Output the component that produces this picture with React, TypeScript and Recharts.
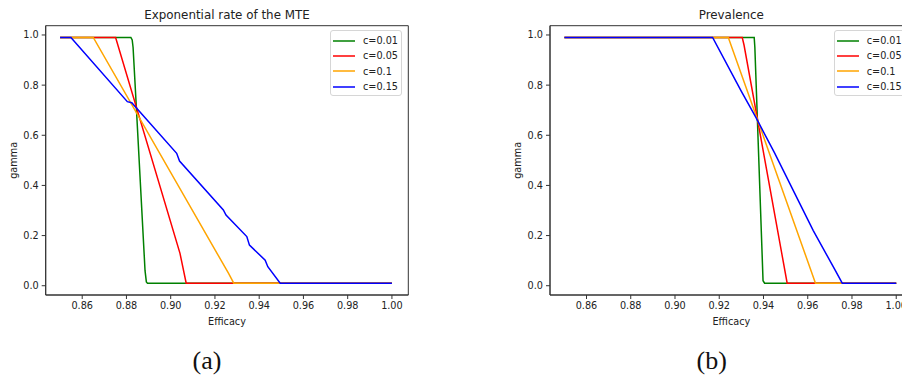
import React from 'react';
import { LineChart, Line, XAxis, YAxis, Legend, ReferenceArea } from 'recharts';

// efficacy ticks / gamma ticks shared by both panels
const xTicks = [0.86, 0.88, 0.9, 0.92, 0.94, 0.96, 0.98, 1.0];
const yTicks = [0, 0.2, 0.4, 0.6, 0.8, 1.0];
const xDomain = [0.8435, 1.0074];
const yDomain = [-0.037, 1.037];

const seriesNames = ['c=0.01', 'c=0.05', 'c=0.1', 'c=0.15'];
const seriesColors = ['#008000', '#ff0000', '#ffa500', '#0000ff'];

// (a) Exponential rate of the MTE
const mteX001 = [0.85, 0.882, 0.8826, 0.883, 0.8843, 0.8884, 0.889, 0.8895, 1.0];
const mteY001 = [0.99, 0.99, 0.98, 0.95, 0.74, 0.06, 0.015, 0.01, 0.01];
const mteX005 = [0.85, 0.8751, 0.9042, 0.9070, 1.0];
const mteY005 = [0.99, 0.99, 0.129, 0.01, 0.01];
const mteX01 = [0.85, 0.865, 0.9261, 0.9285, 1.0];
const mteY01 = [0.99, 0.99, 0.05, 0.01, 0.01];
const mteX015 = [0.85, 0.8549, 0.8804, 0.8824, 0.9027, 0.9040, 0.9238, 0.925, 0.9344, 0.9356, 0.9427, 0.9439, 0.9495, 1.0];
const mteY015 = [0.99, 0.99, 0.734, 0.73, 0.528, 0.497, 0.302, 0.282, 0.196, 0.162, 0.102, 0.076, 0.01, 0.01];

// (b) Prevalence
const prvX001 = [0.85, 0.9358, 0.9361, 0.9398, 0.9405, 1.0];
const prvY001 = [0.99, 0.99, 0.95, 0.02, 0.01, 0.01];
const prvX005 = [0.85, 0.9304, 0.9312, 0.9507, 1.0];
const prvY005 = [0.99, 0.99, 0.96, 0.01, 0.01];
const prvX01 = [0.85, 0.9241, 0.9635, 1.0];
const prvY01 = [0.99, 0.99, 0.01, 0.01];
const prvX015 = [0.85, 0.917, 0.93, 0.9365, 0.945, 0.954, 0.9625, 0.9722, 0.9756, 1.0];
const prvY015 = [0.99, 0.99, 0.775, 0.672, 0.53, 0.37, 0.22, 0.065, 0.01, 0.01];

const zip = (xs: number[], ys: number[]) => xs.map((x, i) => ({ x, y: ys[i] }));

const font = 'DejaVu Sans';
const ink = '#222';

const LegendBox = ({ payload }: any) => (
  <div
    style={{
      width: 72,
      boxSizing: 'border-box',
      border: '1px solid #d6d6d6',
      borderRadius: 3,
      background: 'rgba(255,255,255,0.8)',
      padding: '2px 2px 1px',
      fontFamily: font,
      fontSize: 9.7,
      color: ink,
    }}
  >
    {(payload || []).map((p: any) => {
      const idx = seriesNames.indexOf(p.value);
      const c = idx >= 0 ? seriesColors[idx] : p.color;
      return (
        <div key={p.value} style={{ display: 'flex', alignItems: 'center', height: 15.3 }}>
          <svg width={22} height={4} style={{ marginRight: 8, display: 'block' }}>
            <line x1={0} y1={2} x2={22} y2={2} stroke={c} strokeWidth={1.5} />
          </svg>
          <span style={{ whiteSpace: 'nowrap' }}>{p.value}</span>
        </div>
      );
    })}
  </div>
);

type PanelProps = {
  title: string;
  series: { x: number; y: number }[][];
  width: number;
  plotLeft: number;
  plotRight: number;
  legendLeft: number;
  caption: string;
  captionX: number;
};

const Panel: React.FC<PanelProps> = ({ title, series, width, plotLeft, plotRight, legendLeft, caption, captionX }) => {
  const yAxisW = 45.7;
  const top = 25.7;
  const bottom = 295;
  const xAxisH = 32;
  const cx = (plotLeft + plotRight) / 2;
  return (
    <LineChart
      width={width}
      height={376}
      margin={{ top, left: plotLeft - yAxisW, right: width - plotRight, bottom: 376 - bottom - xAxisH }}
    >
      <XAxis
        type="number"
        dataKey="x"
        domain={xDomain}
        ticks={xTicks}
        allowDataOverflow
        height={xAxisH}
        tickSize={4}
        tickMargin={3}
        tickFormatter={(v: number) => v.toFixed(2)}
        tick={{ fontSize: 9.7, fill: ink, fontFamily: font }}
        stroke="#333"
      />
      <YAxis
        type="number"
        dataKey="y"
        domain={yDomain}
        ticks={yTicks}
        allowDataOverflow
        width={yAxisW}
        tickSize={4}
        tickMargin={3}
        tickFormatter={(v: number) => v.toFixed(1)}
        tick={{ fontSize: 9.7, fill: ink, fontFamily: font }}
        stroke="#333"
      />
      <ReferenceArea x1={xDomain[0]} x2={xDomain[1]} y1={yDomain[0]} y2={yDomain[1]} fill="none" stroke="#333" strokeOpacity={1} />
      {series.map((d, i) => (
        <Line
          key={seriesNames[i]}
          data={d}
          dataKey="y"
          name={seriesNames[i]}
          type="linear"
          stroke={seriesColors[i]}
          strokeWidth={1.5}
          dot={false}
          activeDot={false}
          isAnimationActive={false}
        />
      ))}
      <Legend
        layout="vertical"
        align="center"
        verticalAlign="middle"
        content={<LegendBox />}
        wrapperStyle={{ left: legendLeft, top: 30, width: 'auto', height: 'auto' }}
      />
      <text x={cx} y={19} textAnchor="middle" fontFamily={font} fontSize={11.9} fill={ink}>
        {title}
      </text>
      <text x={cx} y={324.5} textAnchor="middle" fontFamily={font} fontSize={9.7} fill={ink}>
        Efficacy
      </text>
      <text
        x={plotLeft - 32.4}
        y={(top + bottom) / 2}
        textAnchor="middle"
        dominantBaseline="central"
        transform={`rotate(-90, ${plotLeft - 32.4}, ${(top + bottom) / 2})`}
        fontFamily={font}
        fontSize={9.7}
        fill={ink}
      >
        gamma
      </text>
      <text x={captionX} y={369} textAnchor="middle" fontFamily="Liberation Serif" fontSize={26} fill="#111">
        {caption}
      </text>
    </LineChart>
  );
};

export default function App() {
  const mte = [zip(mteX001, mteY001), zip(mteX005, mteY005), zip(mteX01, mteY01), zip(mteX015, mteY015)];
  const prv = [zip(prvX001, prvY001), zip(prvX005, prvY005), zip(prvX01, prvY01), zip(prvX015, prvY015)];
  return (
    <div style={{ position: 'absolute', left: 0, top: 0, width: 902, height: 376, overflow: 'hidden', background: '#fff' }}>
      <div style={{ position: 'absolute', left: 0, top: 0 }}>
        <Panel
          title="Exponential rate of the MTE"
          series={mte}
          width={440}
          plotLeft={45.7}
          plotRight={408.3}
          legendLeft={330}
          caption="(a)"
          captionX={207}
        />
      </div>
      <div style={{ position: 'absolute', left: 451, top: 0 }}>
        <Panel
          title="Prevalence"
          series={prv}
          width={480}
          plotLeft={99}
          plotRight={461.6}
          legendLeft={382.7}
          caption="(b)"
          captionX={260.7}
        />
      </div>
    </div>
  );
}
